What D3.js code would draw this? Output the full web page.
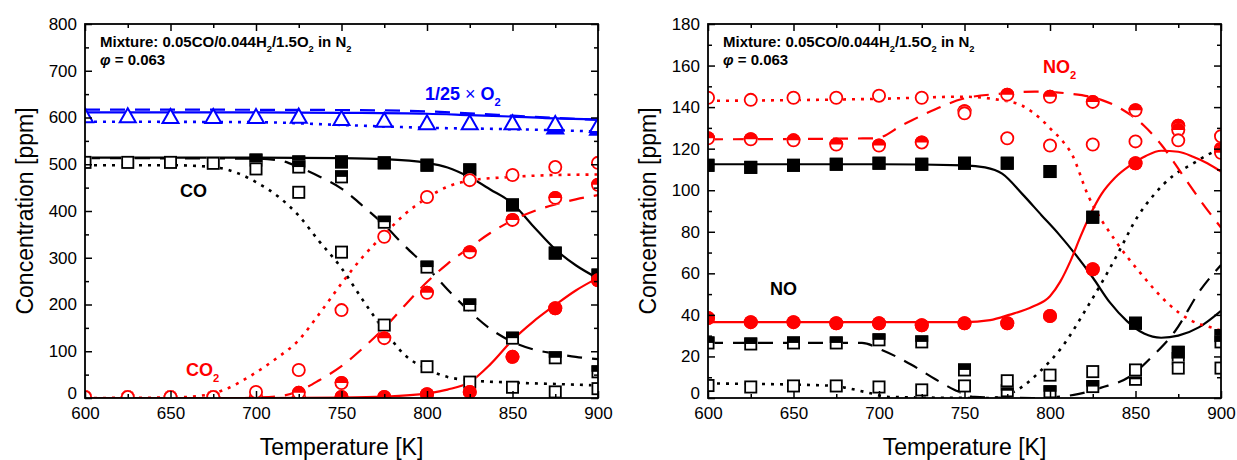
<!DOCTYPE html>
<html><head><meta charset="utf-8">
<script src="https://cdn.jsdelivr.net/npm/d3@7"></script>
<style>
body{margin:0;background:#fff}
svg{display:block}
text{font-family:"Liberation Sans",Arial,Helvetica,sans-serif}
</style>
</head><body>
<svg id="c" width="1237" height="460"></svg>
<script>
// ---------- categories / ticks ----------
const temps = [600,625,650,675,700,725,750,775,800,825,850,875,900];
const xTicks = [600,650,700,750,800,850,900];
const xMinor = [625,675,725,775,825,875];
const yTicksLeft = [0,100,200,300,400,500,600,700,800];
const yMinorLeft = [50,150,250,350,450,550,650,750];
const yTicksRight = [0,20,40,60,80,100,120,140,160,180];
const yMinorRight = [10,30,50,70,90,110,130,150,170];

// ---------- left panel: experiments (ppm) ----------
const coFilled  = [null,null,null,null,509,505,505,503,498,488,413,310,263];
const coHalf    = [null,null,null,null,null,494,473,376,280,199,128,86,56];
const coOpen    = [504,504,504,502,490,440,312,156,67,34,23,13,20];
const co2Filled = [2,2,2,2,2,2,2,2,8,13,88,192,252];
const co2Half   = [2,2,2,2,2,11,32,128,225,312,381,428,456];
const co2Open   = [2,2,2,2,13,60,188,345,430,466,477,494,503];
const o2Filled  = [null,null,null,null,null,null,null,null,null,null,null,581,578];
const o2Open    = [605,605,603,603,603,604,599,595,590,590,590,588,584];

// ---------- left panel: models [T, ppm] ----------
const coSolidModel = [[600,514],[650,514],[700,514],[750,513],[775,511],[800,503],[812,493],[825,472],[837,446],[850,416],[862,368],[875,318],[887,284],[900,256]];
const coDashModel  = [[600,513],[700,512],[714,508],[725,494],[737,474],[750,448],[763,409],[775,370],[787,325],[800,280],[812,232],[825,185],[837,148],[850,120],[862,104],[875,95],[887,88],[900,83]];
const coDotModel   = [[600,498],[650,498],[675,494],[690,480],[700,462],[714,428],[725,390],[737,335],[750,278],[762,212],[775,145],[787,92],[800,62],[812,45],[825,38],[850,33],[875,30],[900,27]];
const co2SolidModel= [[600,0],[700,0],[750,1],[775,3],[800,10],[812,18],[825,34],[837,72],[850,124],[862,163],[875,199],[887,230],[900,257]];
const co2DashModel = [[600,0],[690,0],[700,1],[714,4],[725,15],[737,38],[750,68],[762,105],[775,150],[787,198],[800,248],[812,287],[825,322],[837,353],[850,380],[862,399],[875,414],[887,425],[900,434]];
const co2DotModel  = [[600,0],[650,1],[670,6],[681,17],[698,50],[712,85],[724,120],[737,180],[750,245],[762,300],[775,350],[787,393],[800,428],[812,452],[825,465],[850,473],[875,477],[900,478]];
const o2SolidModel = [[600,611],[700,611],[750,610],[800,608],[825,605],[850,602],[875,598],[900,596]];
const o2DashModel  = [[600,617],[750,616],[800,613],[825,609],[850,604],[875,599],[900,595]];
const o2DotModel   = [[600,591],[700,590],[750,584],[800,578],[850,575],[900,570]];

// ---------- right panel: experiments (ppm) ----------
const noFilled  = [112,111,112,112.5,113,112.5,113,113,109,87,36,22,30];
const noHalf    = [26.5,26,26.5,26.5,28,27,13.5,3.5,3,5.5,9,19,27];
const noOpen    = [6,5.3,5.8,5.8,5.3,3.9,5.8,8.3,11,12.7,13.5,14.4,14.4];
const no2Filled = [38.5,36.5,36.5,36,36,35,36,36,39.5,62,113,131,120];
const no2Half   = [125,124.5,124,122,121.5,123,138,146,145,142.5,138.5,129,118];
const no2Open   = [144.5,143.5,144.5,144.5,145.5,144.5,137,125,121.5,122,123.5,124,126];

// ---------- right panel: models [T, ppm] ----------
const noSolidModel  = [[600,112.5],[700,112.5],[750,112],[762,111],[772,108],[784,98],[795,88],[805,79],[815,69],[825,58],[835,46],[845,37],[855,31],[865,29],[875,30],[887,34],[900,42]];
const noDashModel   = [[600,26.5],[690,26.5],[702,23],[719,16],[733,9],[744,4],[756,0.5],[790,0],[814,1.5],[830,5],[846,10],[861,21],[873,32],[888,52],[900,64]];
const noDotModel    = [[600,7],[670,6],[680,5],[694,2.5],[706,0.5],[765,0],[775,1.5],[783,5],[795,13.5],[807,24.5],[822,44],[832,58],[840,70],[851,87],[861,98],[872,107],[884,113],[892,117],[900,120]];
const no2SolidModel = [[600,36.5],[700,36.5],[750,36.5],[765,37.5],[776,40],[790,44],[800,49],[806,56],[812,66],[818,78],[824,89],[830,98],[838,106],[847,112],[856,116.5],[865,119],[875,118.5],[884,116],[892,113],[900,109]];
const no2DashModel  = [[600,124.5],[698,125],[714,131.5],[733,139],[749,144],[772,146.5],[791,147.5],[811,146.5],[830,143.5],[842,139],[855,131],[865,122],[877,108],[888,95],[900,82]];
const no2DotModel   = [[600,143],[700,144],[749,145],[770,143.5],[783,141],[789,138],[795,134],[801,129],[807,124],[813,117],[822,98],[838,76],[853,60],[869,45.5],[882,37.5],[894,34],[900,32.5]];

// ---------- drawing ----------
const RED = "#ff0000", BLUE = "#0000ff", BLACK = "#000000";
const TOP = 24, BOT = 398;
const DASH = "15,10", DOT = "3,6";
const svg = d3.select("#c");

function rich(g, x, y, parts, o) {
  const size = o.size;
  const t = g.append("text").attr("x", x).attr("y", y)
    .attr("font-size", size).attr("font-weight", o.weight || "bold")
    .attr("fill", o.color || BLACK).attr("text-anchor", o.anchor || "start");
  let shift = 0;
  parts.forEach(p => {
    const ts = t.append("tspan").text(p.t);
    const want = p.sub ? size * 0.32 : 0;
    if (want !== shift) { ts.attr("dy", want - shift); shift = want; }
    if (p.sub) ts.attr("font-size", size * 0.62);
    if (p.italic) ts.attr("font-style", "italic");
    if (p.normal) ts.attr("font-weight", "normal");
  });
  return t;
}

function makePanel(id, x0, x1, ymax, yTicks, yMinor) {
  const x = d3.scaleLinear().domain([600, 900]).range([x0, x1]);
  const y = d3.scaleLinear().domain([0, ymax]).range([BOT, TOP]);
  const g = svg.append("g");
  svg.append("defs").append("clipPath").attr("id", "clip" + id)
    .append("rect").attr("x", x0).attr("y", TOP).attr("width", x1 - x0).attr("height", BOT - TOP);
  const plot = g.append("g").attr("clip-path", `url(#clip${id})`);
  const lines = plot.append("g");
  const marks = plot.append("g");

  const axG = g.append("g");
  const fmt = d3.format("d");
  function ax(axis, tr, vals, size, labels, pad) {
    const a = axis.tickValues(vals).tickSizeInner(-size).tickSizeOuter(0).tickPadding(pad || 8)
      .tickFormat(labels ? fmt : "");
    const s = axG.append("g").attr("transform", tr).call(a);
    s.select(".domain").remove();
    s.selectAll("line").attr("stroke", BLACK).attr("stroke-width", 1.5);
    s.selectAll("text").attr("font-size", 17).attr("fill", BLACK)
      .attr("font-family", '"Liberation Sans",Arial,sans-serif');
    return s;
  }
  ax(d3.axisBottom(x), `translate(0,${BOT})`, xTicks, 7, true, 9);
  ax(d3.axisBottom(x), `translate(0,${BOT})`, xMinor, 4, false);
  ax(d3.axisTop(x), `translate(0,${TOP})`, xTicks, 7, false);
  ax(d3.axisTop(x), `translate(0,${TOP})`, xMinor, 4, false);
  const yl = ax(d3.axisLeft(y), `translate(${x0},0)`, yTicks, 7, true);
  yl.selectAll(".tick").filter(d => d === 0).select("text").attr("y", -5);
  ax(d3.axisLeft(y), `translate(${x0},0)`, yMinor, 4, false);
  ax(d3.axisRight(y), `translate(${x1},0)`, yTicks, 7, false);
  ax(d3.axisRight(y), `translate(${x1},0)`, yMinor, 4, false);
  g.append("rect").attr("x", x0).attr("y", TOP).attr("width", x1 - x0).attr("height", BOT - TOP)
    .attr("fill", "none").attr("stroke", BLACK).attr("stroke-width", 1.8);

  g.append("text").attr("transform", `translate(${x0 - 52},${(TOP + BOT) / 2}) rotate(-90)`)
    .attr("text-anchor", "middle").attr("font-size", 23).text("Concentration [ppm]");
  g.append("text").attr("x", (x0 + x1) / 2).attr("y", 455)
    .attr("text-anchor", "middle").attr("font-size", 23).text("Temperature [K]");

  rich(g, x0 + 15, 47, [{t:"Mixture: 0.05CO/0.044H"},{t:"2",sub:1},{t:"/1.5O"},{t:"2",sub:1},{t:" in N"},{t:"2",sub:1}], {size:15});
  rich(g, x0 + 15, 65, [{t:"\u03C6",italic:1},{t:" = 0.063"}], {size:15});

  const line = d3.line().x(d => x(d[0])).y(d => y(d[1])).curve(d3.curveMonotoneX);
  function model(data, color, dash, w) {
    lines.append("path").attr("d", line(data)).attr("fill", "none").attr("stroke", color)
      .attr("stroke-width", w || 2.2).attr("stroke-dasharray", dash || null);
  }
  function markers(vals, shape, kind, color) {
    const data = temps.map((t, i) => ({ t, v: vals[i] })).filter(d => d.v != null);
    const sel = marks.append("g").selectAll("g").data(data).join("g")
      .attr("transform", d => `translate(${x(d.t)},${y(d.v)})`);
    sel.each(function () {
      const m = d3.select(this);
      if (shape === "sq") {
        const s = 13;
        m.append("rect").attr("x", -s/2).attr("y", -s/2).attr("width", s).attr("height", s)
          .attr("fill", kind === "filled" ? color : "#fff");
        if (kind === "half") m.append("rect").attr("x", -s/2).attr("y", -s/2).attr("width", s).attr("height", s/2).attr("fill", color);
        m.append("rect").attr("x", -s/2 + 0.9).attr("y", -s/2 + 0.9).attr("width", s - 1.8).attr("height", s - 1.8)
          .attr("fill", "none").attr("stroke", color).attr("stroke-width", 1.8);
      } else if (shape === "ci") {
        const r = 7;
        m.append("circle").attr("r", r).attr("fill", kind === "filled" ? color : "#fff");
        if (kind === "half") m.append("path").attr("d", `M${-r},0A${r},${r} 0 0 1 ${r},0Z`).attr("fill", color);
        m.append("circle").attr("r", r - 0.9).attr("fill", "none").attr("stroke", color).attr("stroke-width", 1.8);
      } else {
        m.append("path").attr("d", "M0,-7L8,7L-8,7Z")
          .attr("fill", kind === "filled" ? color : "#fff")
          .attr("stroke", color).attr("stroke-width", 2).attr("stroke-linejoin", "miter");
      }
    });
  }
  return { g, x, y, model, markers };
}

// ---------- left panel ----------
const L = makePanel("L", 85, 598, 800, yTicksLeft, yMinorLeft);
L.model(o2SolidModel, BLUE); L.model(o2DashModel, BLUE, DASH); L.model(o2DotModel, BLUE, DOT, 2.6);
L.model(coSolidModel, BLACK); L.model(coDashModel, BLACK, DASH); L.model(coDotModel, BLACK, DOT, 2.6);
L.model(co2SolidModel, RED); L.model(co2DashModel, RED, DASH); L.model(co2DotModel, RED, DOT, 2.6);
L.markers(o2Filled, "tr", "filled", BLUE);
L.markers(o2Open, "tr", "open", BLUE);
L.markers(coFilled, "sq", "filled", BLACK);
L.markers(coHalf, "sq", "half", BLACK);
L.markers(coOpen, "sq", "open", BLACK);
L.markers(co2Filled, "ci", "filled", RED);
L.markers(co2Half, "ci", "half", RED);
L.markers(co2Open, "ci", "open", RED);
rich(L.g, 425, 100, [{t:"1/25 "},{t:"\u00D7",normal:1},{t:" O"},{t:"2",sub:1}], {size:18, color:BLUE});
rich(L.g, 180, 197, [{t:"CO"}], {size:18});
rich(L.g, 186, 376, [{t:"CO"},{t:"2",sub:1}], {size:18, color:RED});

// ---------- right panel ----------
const R = makePanel("R", 708, 1221, 180, yTicksRight, yMinorRight);
R.model(noSolidModel, BLACK); R.model(noDashModel, BLACK, DASH); R.model(noDotModel, BLACK, DOT, 2.6);
R.model(no2SolidModel, RED); R.model(no2DashModel, RED, DASH); R.model(no2DotModel, RED, DOT, 2.6);
R.markers(noFilled, "sq", "filled", BLACK);
R.markers(noHalf, "sq", "half", BLACK);
R.markers(noOpen, "sq", "open", BLACK);
R.markers(no2Filled, "ci", "filled", RED);
R.markers(no2Half, "ci", "half", RED);
R.markers(no2Open, "ci", "open", RED);
rich(R.g, 1043, 73, [{t:"NO"},{t:"2",sub:1}], {size:18, color:RED});
rich(R.g, 770, 295, [{t:"NO"}], {size:18});
</script>
</body></html>
